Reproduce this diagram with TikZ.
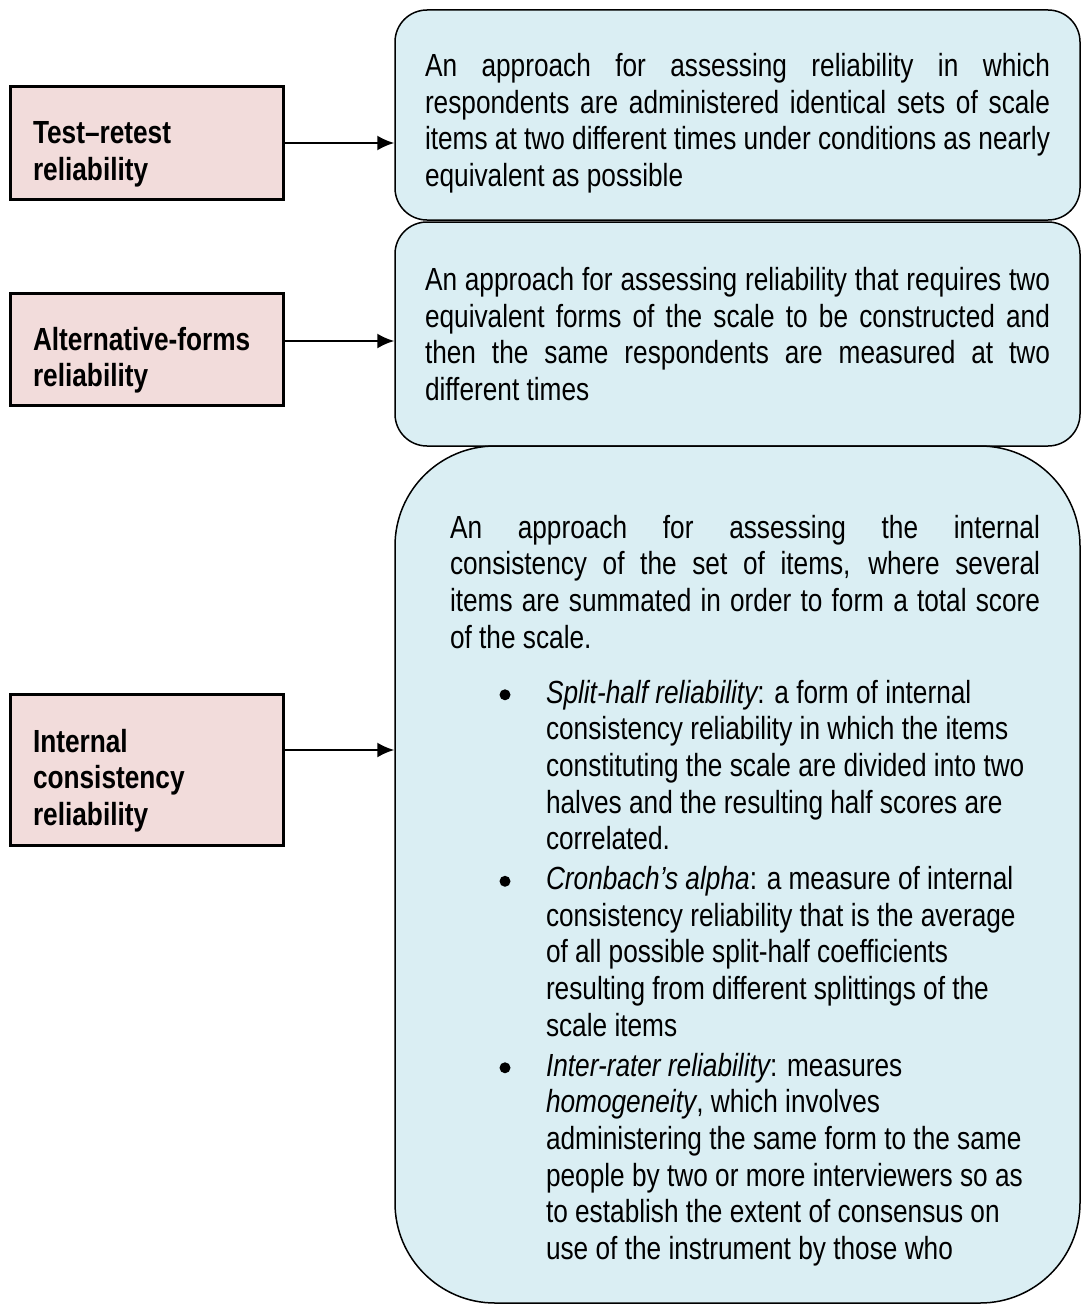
\documentclass[tikz,border=0pt]{standalone}
\usepackage{fontspec}
\setmainfont{Liberation Sans}[FakeStretch=0.82]
\usetikzlibrary{arrows.meta,positioning}

\definecolor{termpink}{HTML}{F2DCDB}
\definecolor{defblue}{HTML}{DAEEF3}

% round dot and one bullet of the list in the last box
\newcommand{\dotmark}{\raisebox{2.8pt}{\tikz\fill (0,0) circle (5.5pt);}}
\newcommand{\bitem}[1]{\par\vspace{3pt}\hangindent=96pt\hangafter=0\noindent
  \llap{\dotmark\hspace*{35.5pt}}#1\par}

\begin{document}
\begin{tikzpicture}[x=1pt,y=-1pt,
    term/.style={draw,line width=3pt,fill=termpink,minimum width=273pt,
      text width=227pt,inner xsep=23pt,align=left,
      font=\bfseries\fontsize{32}{36.7}\selectfont},
    defn/.style={draw,line width=1.5pt,fill=defblue,rounded corners=32pt,
      minimum width=685pt,align=justify,font=\fontsize{32}{36.7}\selectfont},
    drop/.style={execute at begin node={\rule{0pt}{#1}}},
    link/.style={-{Latex[length=17pt,width=15pt]},line width=2pt}]
  \useasboundingbox (0,0) rectangle (1082,1306);

  % definitions on the right
  \node[defn,drop=39.5pt,text width=625pt,minimum height=210pt] (rb1) at (737.5,115)
    {An approach for assessing reliability in which\linebreak
     respondents are administered identical sets of scale\linebreak
     items at two different times under conditions as nearly\linebreak
     equivalent as possible};
  \node[defn,text width=625pt,minimum height=224pt,below=0.5pt of rb1] (rb2)
    {An approach for assessing reliability that requires two\linebreak
     equivalent forms of the scale to be constructed and\linebreak
     then the same respondents are measured at two\linebreak
     different times};
  \node[defn,drop=55.5pt,rounded corners=100pt,text width=605pt,minimum height=857pt,
        below=-1.5pt of rb2] (rb3)
    {\leftskip=15pt
     An approach for assessing the internal\linebreak
     consistency of the set of items, where several\linebreak
     items are summated in order to form a total score\linebreak
     of the scale.\par\vspace{15pt}
     {\raggedright\leftskip=15pt
     \bitem{{\itshape Split-half reliability}: a form of internal\newline
       consistency reliability in which the items\newline
       constituting the scale are divided into two\newline
       halves and the resulting half scores are\newline
       correlated.}
     \bitem{{\itshape Cronbach’s alpha}: a measure of internal\newline
       consistency reliability that is the average\newline
       of all possible split-half coefficients\newline
       resulting from different splittings of the\newline
       scale items}
     \bitem{{\itshape Inter-rater reliability}: measures\newline
       {\itshape homogeneity}, which involves\newline
       administering the same form to the same\newline
       people by two or more interviewers so as\newline
       to establish the extent of consensus on\newline
       use of the instrument by those who}
     }};

  % terms on the left
  \node[term,drop=45.5pt,minimum height=113pt] (lb1) at (146.5,142.5)
    {Test–retest\\reliability};
  \node[term,drop=45.5pt,minimum height=112pt] (lb2) at (146.5,349)
    {Alternative-forms\\reliability};
  \node[term,drop=45.5pt,minimum height=151pt] (lb3) at (146.5,769.5)
    {Internal\\consistency\\reliability};

  \coordinate (y1) at (0,143);
  \coordinate (y2) at (0,341);
  \coordinate (y3) at (0,750);

  \draw[link] (lb1.east |- y1) -- (rb1.west |- y1);
  \draw[link] (lb2.east |- y2) -- (rb2.west |- y2);
  \draw[link] (lb3.east |- y3) -- (rb3.west |- y3);
\end{tikzpicture}
\end{document}
